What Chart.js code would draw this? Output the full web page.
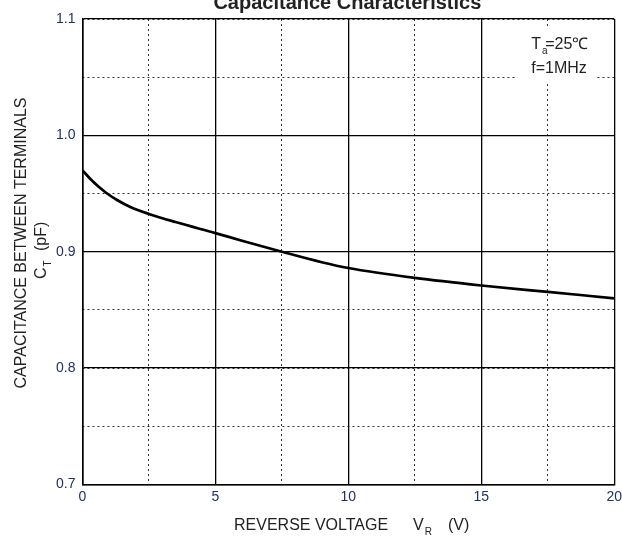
<!DOCTYPE html>
<html>
<head>
<meta charset="utf-8">
<script src="https://cdn.jsdelivr.net/npm/chart.js@4.4.1/dist/chart.umd.min.js"></script>
<style>
  html, body { margin: 0; padding: 0; background: #fff; }
  #wrap { width: 622px; height: 538px; }
</style>
</head>
<body>
<div id="wrap"><canvas id="cap"></canvas></div>
<script>
// reverse voltage (V) and terminal capacitance (pF)
const voltage = [0, 0.3, 0.6, 0.9, 1.3, 1.8, 2.5, 3.5, 5, 6, 7.5, 9, 10, 12.5, 15, 17.5, 20];
const capacitance = [0.970, 0.9625, 0.956, 0.9505, 0.9445, 0.9385, 0.9325, 0.9255, 0.916, 0.9095, 0.900, 0.891, 0.886, 0.8775, 0.871, 0.8655, 0.860];

const xRange = [0, 20];
const yRange = [0.7, 1.1];
const xMajor = 5, xMinor = 2.5;
const yMajor = 0.1, yMinor = 0.05;

const FONT = 'Arial, "Liberation Sans", sans-serif';

function drawSub(ctx, main, sub, x, y, size) {
  // main text then a small subscript, left aligned at x, baseline y
  ctx.font = size + 'px ' + FONT;
  ctx.fillText(main, x, y);
  const w = ctx.measureText(main).width;
  ctx.font = Math.round(size * 0.6) + 'px ' + FONT;
  ctx.fillText(sub, x + w + 1, y + 5);
  return w + 1 + ctx.measureText(sub).width;
}

const textPlugin = {
  id: 'texts',
  afterDraw(chart) {
    const ctx = chart.ctx;
    const a = chart.chartArea;
    ctx.save();
    ctx.fillStyle = '#222';
    ctx.textBaseline = 'alphabetic';

    // title, cut off by the top of the picture
    ctx.font = 'bold 20px ' + FONT;
    ctx.textAlign = 'center';
    ctx.fillText('Capacitance Characteristics', (a.left + a.right) / 2 - 1, 9);
    ctx.textAlign = 'left';

    // conditions box
    ctx.fillStyle = '#fff';
    ctx.fillRect(a.right - 97, a.top + 9, 79, 55);
    ctx.fillStyle = '#222';
    drawSub(ctx, 'T', 'a', a.right - 83, a.top + 30, 16);
    ctx.font = '16px ' + FONT;
    ctx.fillText('=25\u2103', a.right - 69, a.top + 30);
    ctx.fillText('f=1MHz', a.right - 83, a.top + 54);

    // x axis title
    const xb = 530;
    ctx.font = '16px ' + FONT;
    ctx.fillText('REVERSE VOLTAGE', 234, xb);
    drawSub(ctx, 'V', 'R', 413, xb, 16);
    ctx.font = '16px ' + FONT;
    ctx.fillText('(V)', 448, xb);

    // y axis title, rotated
    ctx.save();
    ctx.translate(26, 243);
    ctx.rotate(-Math.PI / 2);
    ctx.textAlign = 'center';
    ctx.font = '16px ' + FONT;
    ctx.fillText('CAPACITANCE BETWEEN TERMINALS', 0, 0);
    ctx.textAlign = 'left';
    drawSub(ctx, 'C', 'T', -36, 20, 16);
    ctx.font = '16px ' + FONT;
    ctx.fillText('(pF)', -8, 20);
    ctx.restore();

    ctx.restore();
  }
};

new Chart(document.getElementById('cap'), {
  type: 'line',
  data: {
    datasets: [{
      data: voltage.map((v, i) => ({ x: v, y: capacitance[i] })),
      borderColor: '#000',
      borderWidth: 2.7,
      pointRadius: 0,
      fill: false,
      cubicInterpolationMode: 'monotone'
    }]
  },
  options: {
    responsive: true,
    maintainAspectRatio: false,
    animation: false,
    layout: { padding: { top: 19, right: 4, left: 49, bottom: 29 } },
    plugins: { legend: { display: false }, tooltip: { enabled: false } },
    scales: {
      x2: {
        type: 'linear', position: 'top', min: xRange[0], max: xRange[1],
        ticks: { display: false, stepSize: xMinor, padding: 0 },
        grid: { color: '#333', lineWidth: 1, drawTicks: false },
        border: { display: false, dash: [2, 3] }
      },
      y2: {
        type: 'linear', position: 'right', min: yRange[0], max: yRange[1],
        ticks: { display: false, stepSize: yMinor, padding: 0 },
        grid: { color: '#333', lineWidth: 1, drawTicks: false },
        border: { display: false, dash: [2, 3] }
      },
      x: {
        type: 'linear', min: xRange[0], max: xRange[1],
        ticks: { stepSize: xMajor, color: '#22306a', padding: 0, maxRotation: 0,
                 font: { family: FONT, size: 14, lineHeight: 1.75 } },
        grid: { color: '#000', lineWidth: 1.3, drawTicks: false },
        border: { color: '#000', width: 1.6 }
      },
      y: {
        type: 'linear', min: yRange[0], max: yRange[1],
        ticks: { stepSize: yMajor, color: '#22306a', padding: 7,
                 font: { family: FONT, size: 14 },
                 callback: v => v.toFixed(1) },
        grid: { color: '#000', lineWidth: 1.3, drawTicks: false },
        border: { color: '#000', width: 1.6 }
      }
    }
  },
  plugins: [textPlugin]
});
</script>
</body>
</html>
